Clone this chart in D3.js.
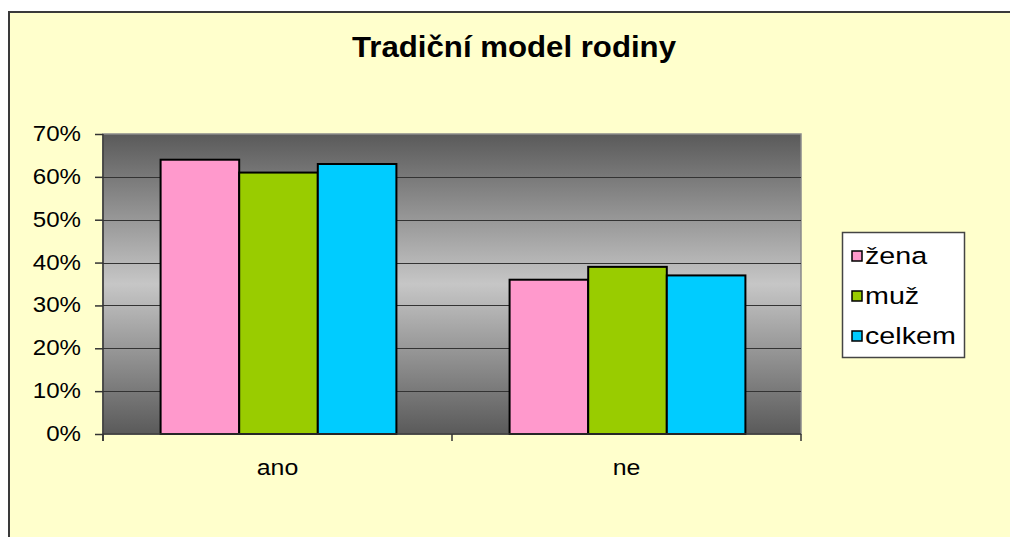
<!DOCTYPE html>
<html>
<head>
<meta charset="utf-8">
<script src="https://cdn.jsdelivr.net/npm/d3@7"></script>
<style>
  body { margin: 0; background: #fff; overflow: hidden; }
  svg { display: block; font-family: Arial, "Liberation Sans", sans-serif; }
</style>
</head>
<body>
<svg width="1010" height="537"></svg>
<script>
'use strict';

var categories = ['ano', 'ne'],
    seriesNames = ['žena', 'muž', 'celkem'],
    zena = [0.64, 0.36],
    muz = [0.61, 0.39],
    celkem = [0.63, 0.37],
    yTicks = [0, 0.1, 0.2, 0.3, 0.4, 0.5, 0.6, 0.7],
    colors = ['#ff99cc', '#99cc00', '#00ccff'];

var seriesValues = [zena, muz, celkem];

var svg = d3.select('svg'),
    plotLeft = 103, plotRight = 801, plotTop = 134, plotBottom = 434;

// stretch text a little wider, like the original export
function widen(sel, k) {
    sel.each(function () {
        var len = this.getComputedTextLength();
        d3.select(this).attr('textLength', len * k).attr('lengthAdjust', 'spacingAndGlyphs');
    });
}

// chart area
svg.append('rect')
    .attr('x', 9).attr('y', 12).attr('width', 1200).attr('height', 700)
    .attr('fill', '#ffffcc').attr('stroke', '#3a3a3a').attr('stroke-width', 2);

var defs = svg.append('defs');
var grad = defs.append('linearGradient').attr('id', 'plotGrad')
    .attr('x1', 0).attr('y1', 0).attr('x2', 0).attr('y2', 1);
grad.append('stop').attr('offset', '0%').attr('stop-color', '#5a5a5a');
grad.append('stop').attr('offset', '50%').attr('stop-color', '#c6c6c6');
grad.append('stop').attr('offset', '100%').attr('stop-color', '#5a5a5a');

var x0 = d3.scaleBand().domain(categories).range([plotLeft, plotRight]).paddingInner(0).paddingOuter(0);
var x1 = d3.scaleBand().domain(seriesNames).range([0, x0.bandwidth()]).paddingInner(0).paddingOuter(0.72);
var y = d3.scaleLinear().domain([0, 0.7]).range([plotBottom, plotTop]);

// plot area
svg.append('rect')
    .attr('x', plotLeft).attr('y', plotTop).attr('width', plotRight - plotLeft).attr('height', plotBottom - plotTop)
    .attr('fill', 'url(#plotGrad)').attr('stroke', '#8a8a8a').attr('stroke-width', 1.5);

// gridlines
svg.append('g').selectAll('line').data(yTicks.slice(1, -1)).join('line')
    .attr('x1', plotLeft).attr('x2', plotRight)
    .attr('y1', function (d) { return Math.round(y(d)) + 0.5; })
    .attr('y2', function (d) { return Math.round(y(d)) + 0.5; })
    .attr('stroke', '#333').attr('stroke-width', 1.2);

// bars
var groups = svg.append('g').selectAll('g').data(categories).join('g')
    .attr('transform', function (c) { return 'translate(' + (x0(c) + 1) + ',0)'; });
groups.selectAll('rect')
    .data(function (c, ci) {
        return seriesNames.map(function (s, si) { return { s: s, i: si, v: seriesValues[si][ci] }; });
    })
    .join('rect')
    .attr('x', function (d) { return x1(d.s); })
    .attr('width', x1.bandwidth())
    .attr('y', function (d) { return y(d.v); })
    .attr('height', function (d) { return plotBottom - y(d.v); })
    .attr('fill', function (d) { return colors[d.i]; })
    .attr('stroke', '#000').attr('stroke-width', 2);

// y axis
var yAxis = svg.append('g').attr('transform', 'translate(' + plotLeft + ',0)')
    .call(d3.axisLeft(y).tickValues(yTicks).tickFormat(d3.format('.0%')).tickSize(8).tickPadding(14));
yAxis.select('.domain').attr('stroke', '#333').attr('stroke-width', 1.5).attr('d', 'M0,' + plotTop + 'V' + (plotBottom + 7));
yAxis.selectAll('.tick line').attr('stroke', '#333').attr('stroke-width', 1.5);
yAxis.selectAll('.tick text')
    .attr('font-size', 21.5).attr('fill', '#000').attr('font-family', 'Arial, "Liberation Sans", sans-serif')
    .attr('dy', '0.3em')
    .call(widen, 1.12);

// x axis
var xAxis = svg.append('g').attr('transform', 'translate(0,' + plotBottom + ')')
    .call(d3.axisBottom(x0).tickSize(0).tickPadding(37));
xAxis.select('.domain').attr('stroke', '#333').attr('stroke-width', 1.5).attr('d', 'M' + plotLeft + ',0H' + plotRight);
xAxis.selectAll('.tick text')
    .attr('font-size', 22).attr('fill', '#000').attr('font-family', 'Arial, "Liberation Sans", sans-serif')
    .attr('dy', '0.2em')
    .call(widen, 1.13);
xAxis.selectAll('line.sep').data(x0.range().concat([x0('ne')])).join('line').attr('class', 'sep')
    .attr('x1', function (d) { return d; }).attr('x2', function (d) { return d; })
    .attr('y1', 0).attr('y2', 7)
    .attr('stroke', '#333').attr('stroke-width', 1.5);

// title
svg.append('text')
    .attr('x', 514).attr('y', 57)
    .attr('text-anchor', 'middle')
    .attr('font-size', 29.5).attr('font-weight', 'bold')
    .attr('textLength', 324).attr('lengthAdjust', 'spacingAndGlyphs')
    .text('Tradiční model rodiny');

// legend
var legend = svg.append('g');
legend.append('rect')
    .attr('x', 842.5).attr('y', 232.5).attr('width', 122).attr('height', 125)
    .attr('fill', '#fff').attr('stroke', '#444').attr('stroke-width', 1.5);
var items = legend.selectAll('g.item').data(seriesNames).join('g').attr('class', 'item')
    .attr('transform', function (d, i) { return 'translate(852,' + (251 + i * 40) + ')'; });
items.append('rect')
    .attr('width', 10).attr('height', 10)
    .attr('fill', function (d, i) { return colors[i]; })
    .attr('stroke', '#000').attr('stroke-width', 1.5);
items.append('text')
    .attr('x', 13).attr('y', 13)
    .attr('font-size', 24.5)
    .text(function (d) { return d; })
    .call(widen, 1.17);
</script>
</body>
</html>
